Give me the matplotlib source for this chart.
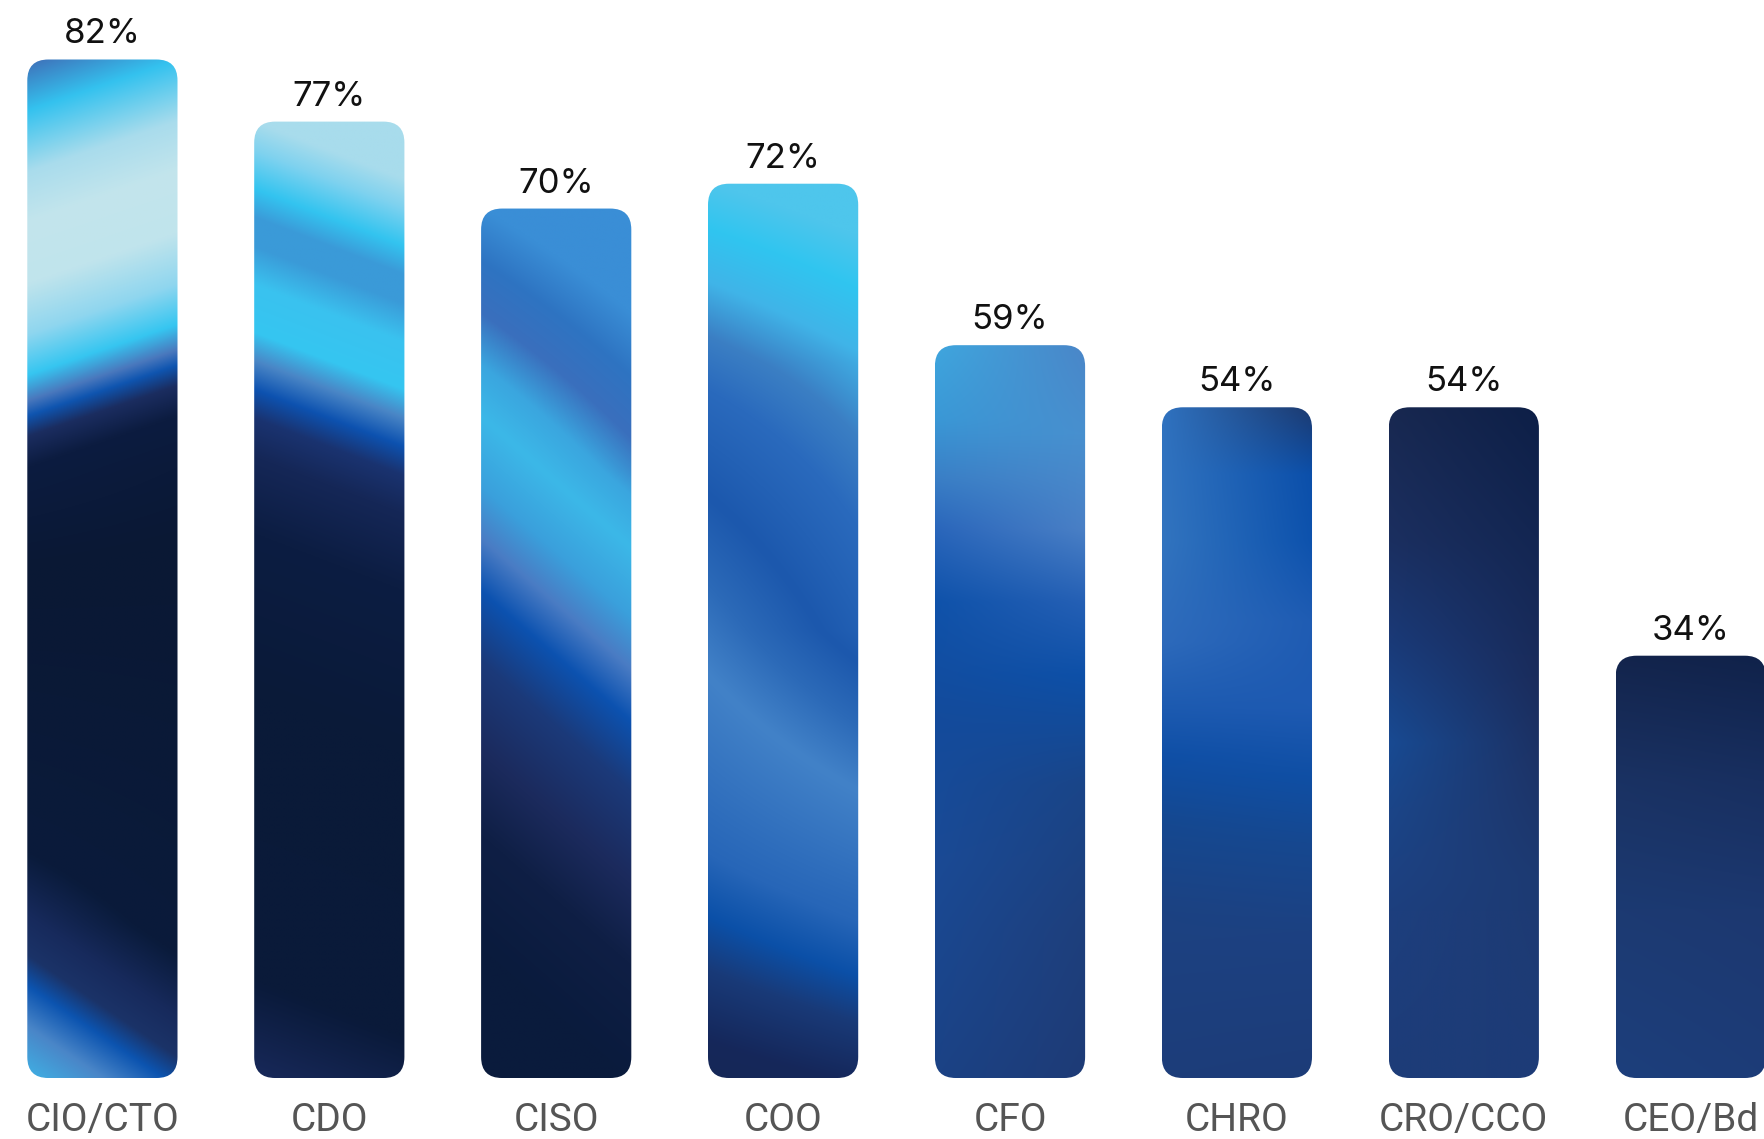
import numpy as np
import matplotlib
matplotlib.use("Agg")
import matplotlib.pyplot as plt
from matplotlib.colors import to_rgb
from matplotlib.patches import FancyBboxPatch

roles = ["CIO/CTO", "CDO", "CISO", "COO", "CFO", "CHRO", "CRO/CCO", "CEO/Bd"]
shares = [82, 77, 70, 72, 59, 54, 54, 34]

# colour ramps down each bar (0 = top, 1 = bottom); optional second ramp for the right edge
left_stops = [
    [(0, "#3f6fb8"), (.05, "#34c2ef"), (.11, "#a9dcec"), (.16, "#c3e5ec"), (.22, "#c0e4ec"),
     (.27, "#8fd6ef"), (.31, "#36c6f1"), (.335, "#4a78bd"), (.35, "#0f55b0"), (.37, "#1b2d60"),
     (.40, "#0c1c40"), (.50, "#0a1834"), (.78, "#0a1b3b"), (.84, "#172a5c"), (.88, "#1b3368"),
     (.91, "#0c54b0"), (.95, "#4a86c8"), (1, "#3fb0e4")],
    [(0, "#a8dcec"), (.03, "#7fd2ef"), (.07, "#33c4f0"), (.10, "#3b9ad8"), (.13, "#3a9ad8"),
     (.17, "#3ac2ef"), (.22, "#35c6f1"), (.25, "#4a86c6"), (.28, "#0d52b0"), (.31, "#1a3370"),
     (.35, "#152757"), (.43, "#0c1d42"), (.60, "#0a1a38"), (.90, "#0a1a3a"), (1, "#18295a")],
    [(0, "#3a8ed6"), (.06, "#2e74c2"), (.12, "#3a6fbd"), (.18, "#3aa6df"), (.24, "#3cb8e8"),
     (.32, "#3aa0dc"), (.38, "#4a7cc4"), (.44, "#0c52b0"), (.52, "#1b3a7a"), (.62, "#1c2b5e"),
     (.72, "#0f1f45"), (.85, "#0a1b3d"), (1, "#0b1b3c")],
    [(0, "#4ec6ec"), (.05, "#30c5f0"), (.11, "#40b4e8"), (.17, "#3b7fc4"), (.23, "#2a6abd"),
     (.35, "#1c58ad"), (.45, "#2c6ab8"), (.55, "#4282c8"), (.65, "#3574c0"), (.75, "#2766b8"),
     (.82, "#0b50a8"), (.88, "#193a78"), (.96, "#15275a"), (1, "#162857")],
    [(0, "#3fa6de"), (.10, "#3a98d6"), (.18, "#3a7fc6"), (.25, "#2a66bb"), (.35, "#0f52aa"),
     (.50, "#134b9c"), (.70, "#1a4a95"), (1, "#1b4285")],
    [(0, "#2f72c0"), (.2, "#3274bf"), (.35, "#2d6abb"), (.45, "#1c5ab0"), (.52, "#0f4fa6"),
     (.62, "#154890"), (.75, "#1c4282"), (1, "#1d3d7a")],
    [(0, "#182850"), (.2, "#1b2f60"), (.35, "#1a3a78"), (.5, "#184a92"), (.6, "#1b4588"),
     (.75, "#1d3f7e"), (1, "#1d3c78")],
    [(0, "#13244c"), (.3, "#1a3263"), (.6, "#1c3a72"), (1, "#1d3f7c")],
]
right_stops = [
    None, None, None, None,
    [(0, "#4a86c8"), (.12, "#4890cf"), (.25, "#4a80c6"), (.35, "#2560b5"), (.45, "#0d50a8"),
     (.60, "#1a4588"), (.80, "#1e3f7c"), (1, "#1e3b76")],
    [(0, "#1c3a70"), (.1, "#0b4faa"), (.2, "#0d52ad"), (.32, "#1f5cb3"), (.45, "#1e5ab2"),
     (.55, "#0f4fa5"), (.65, "#164890"), (.78, "#1c4182"), (1, "#1d3c78")],
    [(0, "#0d1f47"), (.2, "#132652"), (.4, "#1a2c5c"), (.55, "#1d3468"), (.7, "#1d3a72"),
     (1, "#1d3c78")],
    [(0, "#10224a"), (.3, "#182f60"), (.6, "#1c3870"), (1, "#1d3c78")],
]
# how far the bands shift across the bar width, given at points down the bar
tilts = [
    [(0, .05), (.4, .05), (.85, -.1), (1, -.1)],
    [(0, -.06), (1, -.06)],
    [(0, -.1), (.3, -.15), (1, -.15)],
    [(0, -.05), (.2, -.08), (.5, -.2), (.8, -.08), (1, -.05)],
    [(0, 0), (1, 0)],
    [(0, 0), (1, 0)],
    [(0, 0), (1, 0)],
    [(0, 0), (1, 0)],
]


def ramp(stops, t):
    pos = [p for p, _ in stops]
    cols = np.array([to_rgb(c) for _, c in stops])
    return np.stack([np.interp(t, pos, cols[:, k]) for k in range(3)], axis=-1)


def gradient(left, right, tilt, ny=600, nx=150):
    y = np.linspace(0, 1, ny)[:, None]
    x = np.linspace(0, 1, nx)[None, :]
    shift = np.interp(y, [p for p, _ in tilt], [s for _, s in tilt])
    t = np.clip(y + shift * x, 0, 1)
    img = ramp(left, t)
    if right is not None:
        w = np.broadcast_to(x, t.shape)[..., None]
        img = img * (1 - w) + ramp(right, t) * w
    return img


W, H = 1764, 1139
fig = plt.figure(figsize=(W / 100, H / 100), dpi=100)
ax = fig.add_axes([0, 0, 1, 1])
ax.set_axis_off()

x = np.arange(len(roles))
bars = ax.bar(x, shares, width=0.662, color="none")

xlim = (-0.4513, 7.323)
ylim = (-4.91, 86.79)
ax.set_xlim(*xlim)
ax.set_ylim(*ylim)
px_x = (xlim[1] - xlim[0]) / W
px_y = (ylim[1] - ylim[0]) / H
r_px = 21

for i, rect in enumerate(bars):
    x0, w, h = rect.get_x(), rect.get_width(), rect.get_height()
    patch = FancyBboxPatch((x0, 0), w, h,
                           boxstyle=f"round,pad=0,rounding_size={r_px * px_x}",
                           mutation_aspect=px_y / px_x,
                           facecolor="none", edgecolor="none")
    ax.add_patch(patch)
    im = ax.imshow(gradient(left_stops[i], right_stops[i], tilts[i]),
                   extent=(x0, x0 + w, 0, h), origin="upper",
                   aspect="auto", interpolation="bilinear")
    im.set_clip_path(patch)
    ax.text(x0 + w / 2, h + 16 * px_y, f"{shares[i]}%",
            ha="center", va="baseline", fontsize=25, family="Inter",
            color="#111111")
    ax.text(x0 + w / 2, -53 * px_y, roles[i],
            ha="center", va="baseline", fontsize=28, family="Roboto",
            color="#555555")

ax.set_xlim(*xlim)
ax.set_ylim(*ylim)
fig.savefig("out.png", dpi=100)
